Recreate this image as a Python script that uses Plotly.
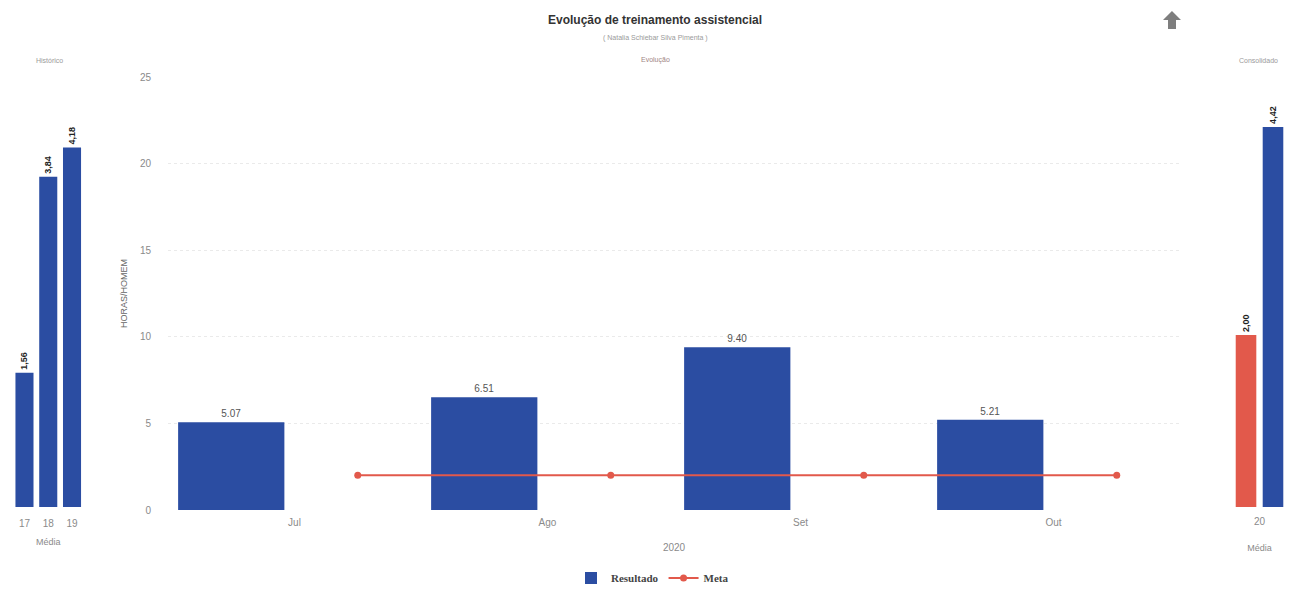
import plotly.graph_objects as go

# Main chart data (monthly evolution)
MONTHS = ["Jul", "Ago", "Set", "Out"]
RESULTADO = [5.07, 6.51, 9.40, 5.21]
META = [2.0, 2.0, 2.0, 2.0]

# Left panel: historical averages
HIST_YEARS = ["17", "18", "19"]
HIST_MEDIA = [1.56, 3.84, 4.18]

# Right panel: consolidated
CONS_YEAR = ["20"]
CONS_META = [2.00]
CONS_RESULT = [4.42]

BLUE = "#2B4DA2"
RED = "#E2594B"
GREY = "#8A8A8A"
FONT = "Liberation Sans, Arial, sans-serif"

W, H = 1305, 601


def px_x(v):
    return v / W


def px_y(v):
    return 1 - v / H


def comma(v):
    return f"{v:.2f}".replace(".", ",")


fig = go.Figure()

# main bars
fig.add_trace(go.Bar(
    x=MONTHS, y=RESULTADO, name="Resultado",
    marker=dict(color=BLUE, line=dict(width=0)),
    width=0.42, offset=-0.46,
    text=[f"{v:.2f}" for v in RESULTADO], textposition="outside",
    textfont=dict(size=10, color="#555555"), cliponaxis=False,
    xaxis="x", yaxis="y",
))

# meta line, shifted right of the bars via an overlay axis
fig.add_trace(go.Scatter(
    x=MONTHS, y=META, name="Meta", mode="lines+markers",
    line=dict(color=RED, width=2), marker=dict(color=RED, size=7),
    xaxis="x4", yaxis="y",
))

# left panel - historico
fig.add_trace(go.Bar(
    x=HIST_YEARS, y=HIST_MEDIA, showlegend=False, width=0.76,
    marker=dict(color=BLUE, line=dict(width=0)),
    text=[comma(v) for v in HIST_MEDIA], textposition="outside", textangle=-90,
    textfont=dict(size=9, color="#222222", weight=700), cliponaxis=False,
    xaxis="x2", yaxis="y2",
))

# right panel - consolidado
fig.add_trace(go.Bar(
    x=CONS_YEAR, y=CONS_META, showlegend=False, width=0.29,
    marker=dict(color=RED, line=dict(width=0)),
    text=[comma(v) for v in CONS_META], textposition="outside", textangle=-90,
    textfont=dict(size=9, color="#222222", weight=700), cliponaxis=False,
    xaxis="x3", yaxis="y3",
))
fig.add_trace(go.Bar(
    x=CONS_YEAR, y=CONS_RESULT, showlegend=False, width=0.29,
    marker=dict(color=BLUE, line=dict(width=0)),
    text=[comma(v) for v in CONS_RESULT], textposition="outside", textangle=-90,
    textfont=dict(size=9, color="#222222", weight=700), cliponaxis=False,
    xaxis="x3", yaxis="y3",
))

main_dom_x = [px_x(168), px_x(1180)]
main_dom_y = [px_y(510), px_y(77)]
side_dom_y = [px_y(507), px_y(77)]
tick_font = dict(size=10, color=GREY, family=FONT)

fig.update_layout(
    width=W, height=H,
    margin=dict(l=0, r=0, t=0, b=0),
    paper_bgcolor="white", plot_bgcolor="white",
    font=dict(family=FONT, color=GREY),
    barmode="group", bargap=0.24, bargroupgap=0,
    xaxis=dict(
        domain=main_dom_x, type="category", categoryarray=MONTHS,
        range=[-0.5, 3.5], showgrid=False, zeroline=False, automargin=False,
        tickfont=tick_font, ticks="outside", ticklen=3, tickcolor="white",
        anchor="y",
        title=dict(text="2020", font=dict(size=10, color=GREY), standoff=16),
    ),
    xaxis4=dict(
        domain=main_dom_x, type="category", categoryarray=MONTHS,
        range=[-0.75, 3.25], overlaying="x", anchor="y", visible=False,
        automargin=False,
    ),
    yaxis=dict(
        domain=main_dom_y, range=[0, 25], dtick=5, automargin=False,
        showgrid=True, gridcolor="#EAEAEA", griddash="dot", zeroline=False,
        tickfont=tick_font, ticks="outside", ticklen=14, tickcolor="white",
        anchor="x",
        title=dict(text="HORAS/HOMEM", font=dict(size=9, color="#666666"), standoff=10),
    ),
    xaxis2=dict(
        domain=[px_x(12.6), px_x(83.9)], type="category", anchor="y2",
        showgrid=False, zeroline=False, tickfont=tick_font, automargin=False,
        ticks="outside", ticklen=7, tickcolor="white",
        title=dict(text="Média", font=dict(size=9, color=GREY), standoff=10),
    ),
    yaxis2=dict(
        domain=side_dom_y, range=[0, 5], anchor="x2", visible=False,
        automargin=False,
    ),
    xaxis3=dict(
        domain=[px_x(1224), px_x(1295)], type="category", anchor="y3",
        showgrid=False, zeroline=False, tickfont=tick_font, automargin=False,
        ticks="outside", ticklen=5, tickcolor="white",
        title=dict(text="Média", font=dict(size=9, color=GREY), standoff=18),
    ),
    yaxis3=dict(
        domain=side_dom_y, range=[0, 5], anchor="x3", visible=False,
        automargin=False,
    ),
    legend=dict(
        orientation="h", x=0.5, xanchor="center", y=px_y(578), yanchor="middle",
        font=dict(family="Liberation Serif, serif", size=11, color="#444444", weight=700),
        bgcolor="rgba(0,0,0,0)",
    ),
)

annots = [
    dict(text="<b>Evolução de treinamento assistencial</b>", x=px_x(655), y=px_y(20),
         font=dict(size=12, color="#333333")),
    dict(text="( Natalia Schiebar Silva Pimenta )", x=px_x(655), y=px_y(38),
         font=dict(size=7, color="#9A9A9A")),
    dict(text="Evolução", x=px_x(655), y=px_y(60),
         font=dict(size=7, color="#A08585")),
    dict(text="Histórico", x=px_x(50), y=px_y(60),
         font=dict(size=7, color="#9A9A9A")),
    dict(text="Consolidado", x=px_x(1258), y=px_y(60),
         font=dict(size=7, color="#9A9A9A")),
]
for a in annots:
    fig.add_annotation(xref="paper", yref="paper", showarrow=False,
                       xanchor="center", yanchor="middle", **a)

# grey "up" arrow icon in the top right corner
arrow = [(1172, 11), (1181, 20), (1176, 20), (1176, 29), (1168, 29), (1168, 20), (1163, 20)]
path = "M " + " L ".join(f"{px_x(x):.5f},{px_y(y):.5f}" for x, y in arrow) + " Z"
fig.add_shape(type="path", path=path, xref="paper", yref="paper",
              fillcolor="#7E7E7E", line=dict(width=0))

# drop the default page margin so the figure sits at the window origin
fig.write_html("out.html", config={"displayModeBar": False},
               post_script="document.body.style.margin='0';")
